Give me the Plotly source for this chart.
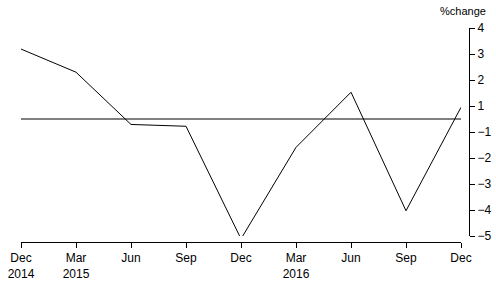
import plotly.graph_objects as go

quarters = ["Dec<br>2014", "Mar<br>2015", "Jun", "Sep", "Dec", "Mar<br>2016", "Jun", "Sep", "Dec"]
# values on the chart's own (label-offset) scale; 0 = the horizontal zero line
values = [2.69, 1.80, -0.21, -0.28, -4.61, -1.09, 1.03, -3.53, 0.45]
y_tick_labels = ["4", "3", "2", "1", "\u22121", "\u22122", "\u22123", "\u22124", "\u22125"]
y_tick_pos = [3.5, 2.5, 1.5, 0.5, -0.5, -1.5, -2.5, -3.5, -4.5]

x = list(range(len(quarters)))
W, H = 496, 284
ml, mr, mt, mb = 21, 27, 28, 42
plot_w = W - ml - mr
plot_h = H - mt - mb

fig = go.Figure()
fig.add_trace(go.Scatter(x=x, y=values, mode="lines",
                         line=dict(color="black", width=1), hoverinfo="skip"))

fig.add_shape(type="line", xref="x", yref="y", x0=x[0], x1=x[-1], y0=0, y1=0,
              line=dict(color="black", width=1))

fig.update_layout(
    width=W, height=H,
    margin=dict(l=ml, r=mr, t=mt, b=mb, autoexpand=False),
    paper_bgcolor="white", plot_bgcolor="white",
    showlegend=False,
    font=dict(family="Liberation Sans, Arial, sans-serif", size=12, color="black"),
    xaxis=dict(
        domain=[0, (461 - ml) / plot_w],
        range=[0, 8],
        tickmode="array", tickvals=x, ticktext=quarters,
        ticks="outside", ticklen=5, tickcolor="black", tickwidth=1,
        showline=True, linecolor="black", linewidth=1,
        showgrid=False, zeroline=False,
        anchor="free", position=0, automargin=False,
        tickfont=dict(size=12),
    ),
    yaxis=dict(
        domain=[(H - mb - 236) / plot_h, 1],
        range=[-4.5, 3.5],
        side="right", anchor="free", position=1, automargin=False,
        tickmode="array", tickvals=y_tick_pos, ticktext=y_tick_labels,
        ticks="outside", ticklen=5, tickcolor="black", tickwidth=1,
        showline=True, linecolor="black", linewidth=1,
        showgrid=False, zeroline=False,
        tickfont=dict(size=12),
    ),
    annotations=[dict(text="%change", xref="paper", yref="paper",
                      x=1.0, y=1.0, xanchor="center", yanchor="bottom",
                      xshift=-6, yshift=9, showarrow=False,
                      font=dict(size=11, color="black"))],
)

fig.write_html("out.html")
